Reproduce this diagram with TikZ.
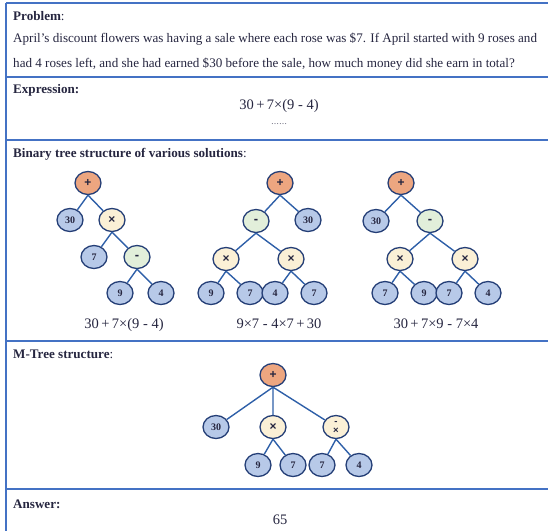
\documentclass[tikz,border=0pt]{standalone}
\usepackage{fontspec}
\setmainfont{Liberation Serif}
\newfontfamily\opfont{Liberation Sans}
\usetikzlibrary{shapes.geometric}
\definecolor{framec}{RGB}{68,114,196}
\definecolor{txtc}{RGB}{38,38,64}
\definecolor{edgec}{RGB}{46,95,168}
\definecolor{outc}{RGB}{36,62,118}
\definecolor{plusc}{RGB}{237,166,128}
\definecolor{leafc}{RGB}{183,201,232}
\definecolor{mulc}{RGB}{251,240,214}
\definecolor{subc}{RGB}{226,239,218}
\tikzset{
  tnode/.style={ellipse, draw=outc, line width=1.3pt, minimum width=26pt, minimum height=23pt, inner sep=0pt, text=txtc},
  leaf/.style={tnode, fill=leafc, font=\fontsize{10}{10}\selectfont\bfseries},
  plusn/.style={tnode, fill=plusc, font=\opfont\fontsize{12}{12}\selectfont\bfseries},
  muln/.style={tnode, fill=mulc, font=\opfont\fontsize{12}{12}\selectfont\bfseries},
  subn/.style={tnode, fill=subc, font=\opfont\fontsize{13}{13}\selectfont\bfseries},
  edge/.style={draw=edgec, line width=1.4pt},
  frame/.style={draw=framec, line width=1.8pt},
  body/.style={anchor=base west, inner sep=0pt, text=txtc, font=\fontsize{13.1}{15}\selectfont},
  expr/.style={anchor=base, inner sep=0pt, text=txtc, font=\fontsize{14.5}{16}\selectfont},
}
\begin{document}
\begin{tikzpicture}[x=1pt,y=-1pt]
\useasboundingbox (0,0) rectangle (548,531);
% frame
\draw[frame] (6,3) -- (548,3);
\draw[frame] (6,3) -- (6,531);
\draw[frame] (6,77) -- (548,77);
\draw[frame] (6,140) -- (548,140);
\draw[frame] (6,341) -- (548,341);
\draw[frame] (6,489) -- (548,489);
% texts
\node[body] (t1) at (13,20) {\textbf{Problem}:};
\node[body] (t2) at (13,42) {April's discount flowers was having a sale where each rose was \$7. If April started with 9 roses and};
\node[body] (t3) at (13,67) {had 4 roses left, and she had earned \$30 before the sale, how much money did she earn in total?};
\node[body] (t4) at (13,93) {\textbf{Expression:}};
\node[expr] (e1) at (279,109) {30\,+\,7×(9 - 4)};
\node[expr] (e2) at (279,124) {\fontsize{8}{8}\selectfont ……};
\node[body] (t5) at (13,157) {\textbf{Binary tree structure of various solutions}:};
% tree 1
\node[plusn] (a1) at (88,183) {+};
\node[leaf] (a2) at (70,220) {30};
\node[muln] (a3) at (112,220) {×};
\node[leaf] (a4) at (94,257) {7};
\node[subn] (a5) at (137,257) {-};
\node[leaf] (a6) at (120,293) {9};
\node[leaf] (a7) at (161,293) {4};
\draw[edge] (a1.south) -- (a2) (a1.south) -- (a3);
\draw[edge] (a3.south) -- (a4) (a3.south) -- (a5);
\draw[edge] (a5.south) -- (a6) (a5.south) -- (a7);
\node[expr] (l1) at (124,328) {30\,+\,7×(9 - 4)};
% tree 2
\node[plusn] (b1) at (280,183) {+};
\node[subn] (b2) at (256,221) {-};
\node[leaf] (b3) at (308,220) {30};
\node[muln] (b4) at (226,259) {×};
\node[muln] (b5) at (291,259) {×};
\node[leaf] (b6) at (211,293) {9};
\node[leaf] (b7) at (250,293) {7};
\node[leaf] (b8) at (275,293) {4};
\node[leaf] (b9) at (314,293) {7};
\draw[edge] (b1.south) -- (b2) (b1.south) -- (b3);
\draw[edge] (b2.south) -- (b4) (b2.south) -- (b5);
\draw[edge] (b4.south) -- (b6) (b4.south) -- (b7);
\draw[edge] (b5.south) -- (b8) (b5.south) -- (b9);
\node[expr] (l2) at (279,328) {9×7 - 4×7\,+\,30};
% tree 3
\node[plusn] (c1) at (401,183) {+};
\node[leaf] (c2) at (376,221) {30};
\node[subn] (c3) at (430,221) {-};
\node[muln] (c4) at (400,259) {×};
\node[muln] (c5) at (465,259) {×};
\node[leaf] (c6) at (385,293) {7};
\node[leaf] (c7) at (424,293) {9};
\node[leaf] (c8) at (449,293) {7};
\node[leaf] (c9) at (488,293) {4};
\draw[edge] (c1.south) -- (c2) (c1.south) -- (c3);
\draw[edge] (c3.south) -- (c4) (c3.south) -- (c5);
\draw[edge] (c4.south) -- (c6) (c4.south) -- (c7);
\draw[edge] (c5.south) -- (c8) (c5.south) -- (c9);
\node[expr] (l3) at (436,328) {30\,+\,7×9 - 7×4};
% M-tree
\node[body] (t6) at (13,358) {\textbf{M-Tree structure}:};
\node[plusn] (m1) at (273,375) {+};
\node[leaf] (m2) at (216,427) {30};
\node[muln] (m3) at (273,427) {×};
\node[muln, align=center, font=\opfont\fontsize{9.5}{9}\selectfont\bfseries] (m4) at (336,427) {-\\×};
\node[leaf] (m5) at (258,465) {9};
\node[leaf] (m6) at (293,465) {7};
\node[leaf] (m7) at (322,465) {7};
\node[leaf] (m8) at (359,465) {4};
\draw[edge] (m1.south) -- (m2) (m1.south) -- (m3) (m1.south) -- (m4);
\draw[edge] (m3.south) -- (m5) (m3.south) -- (m6);
\draw[edge] (m4.south) -- (m7) (m4.south) -- (m8);
\node[body] (t7) at (13,508) {\textbf{Answer:}};
\node[expr] (ans) at (280,524) {65};
\end{tikzpicture}
\end{document}
